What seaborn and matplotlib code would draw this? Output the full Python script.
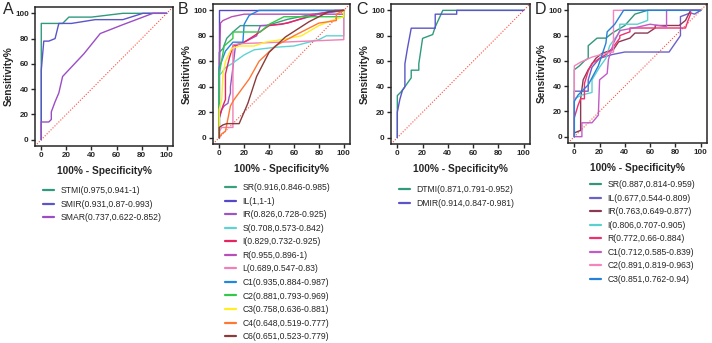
import matplotlib
matplotlib.use("Agg")
import matplotlib.pyplot as plt
import pandas as pd
import seaborn as sns
from matplotlib.lines import Line2D

# ---- data: ROC points (100% - specificity, sensitivity) ----
A_LABELS = ["STMI(0.975,0.941-1)", "SMIR(0.931,0.87-0.993)", "SMAR(0.737,0.622-0.852)"]
A_CURVES = [
    [(0, 0), (0, 92), (17, 92), (22, 97), (40, 97), (65, 100), (100, 100)],
    [(0, 0), (0, 55), (2, 78), (6, 78), (11, 80), (14, 92), (24, 92), (43, 95), (65, 95), (81, 100), (100, 100)],
    [(0, 0), (0, 14), (6, 14), (8, 16), (8, 22), (11, 30), (14, 37), (17, 50), (34, 68), (47, 84), (65, 91), (89, 100), (100, 100)],
]

B_LABELS = ["SR(0.916,0.846-0.985)", "IL(1,1-1)", "IR(0.826,0.728-0.925)", "S(0.708,0.573-0.842)",
            "I(0.829,0.732-0.925)", "R(0.955,0.896-1)", "L(0.689,0.547-0.83)", "C1(0.935,0.884-0.987)",
            "C2(0.881,0.793-0.969)", "C3(0.758,0.636-0.881)", "C4(0.648,0.519-0.777)", "C6(0.651,0.523-0.779)"]
B_CURVES = [
    [(0, 0), (0, 67), (3, 70), (6, 78), (11, 83), (17, 88), (38, 88), (55, 93), (75, 97), (100, 100)],
    [(0, 0), (0, 100), (100, 100)],
    [(0, 0), (0, 15), (2, 22), (4, 25), (7, 27), (8, 32), (9, 35), (9, 40), (11, 55), (13, 72), (20, 75), (30, 80), (33, 88), (50, 89), (80, 97), (100, 100)],
    [(0, 0), (0, 49), (2, 51), (5, 55), (10, 58), (20, 65), (28, 69), (45, 71), (60, 72), (80, 77), (86, 80), (100, 80), (100, 100)],
    [(0, 0), (0, 16), (3, 25), (5, 30), (5, 50), (8, 62), (11, 72), (20, 75), (28, 80), (40, 88), (55, 90), (74, 96), (93, 100), (100, 100)],
    [(0, 0), (0, 50), (1, 90), (3, 92), (10, 95), (20, 97), (100, 97), (100, 100)],
    [(0, 0), (0, 5), (2, 8), (11, 8), (11, 73), (20, 74), (50, 75), (100, 77), (100, 100)],
    [(0, 0), (0, 55), (5, 68), (11, 75), (19, 75), (20, 89), (24, 96), (32, 100), (100, 100)],
    [(0, 0), (0, 50), (4, 72), (11, 78), (11, 83), (29, 83), (33, 83), (40, 89), (52, 95), (100, 95), (100, 100)],
    [(0, 0), (0, 22), (2, 30), (3, 50), (5, 60), (10, 70), (16, 72), (28, 72), (37, 75), (50, 77), (66, 80), (80, 88), (90, 92), (100, 95), (100, 100)],
    [(0, 0), (2, 3), (5, 5), (7, 15), (9, 25), (12, 30), (24, 46), (32, 60), (45, 72), (60, 80), (80, 90), (94, 92), (94, 97), (100, 100)],
    [(0, 0), (0, 8), (3, 10), (6, 11), (16, 11), (23, 27), (30, 48), (40, 67), (53, 79), (72, 91), (88, 99), (100, 100)],
]

C_LABELS = ["DTMI(0.871,0.791-0.952)", "DMIR(0.914,0.847-0.981)"]
C_CURVES = [
    [(0, 0), (0, 33), (3, 36), (6, 40), (11, 47), (11, 53), (17, 53), (17, 58), (20, 78), (28, 81), (30, 87), (36, 100), (100, 100)],
    [(0, 0), (0, 20), (2, 30), (4, 37), (6, 40), (6, 58), (8, 70), (11, 86), (30, 86), (30, 97), (47, 97), (47, 100), (100, 100)],
]

D_LABELS = ["SR(0.887,0.814-0.959)", "IL(0.677,0.544-0.809)", "IR(0.763,0.649-0.877)", "I(0.806,0.707-0.905)",
            "R(0.772,0.66-0.884)", "C1(0.712,0.585-0.839)", "C2(0.891,0.819-0.963)", "C3(0.851,0.762-0.94)"]
D_CURVES = [
    [(0, 0), (0, 53), (4, 56), (8, 60), (11, 62), (11, 72), (18, 78), (25, 78), (30, 82), (40, 88), (48, 97), (58, 100), (100, 100)],
    [(0, 0), (0, 36), (11, 36), (11, 45), (14, 55), (20, 62), (30, 65), (40, 67), (75, 67), (84, 80), (84, 95), (92, 98), (95, 97), (100, 100)],
    [(0, 0), (0, 3), (5, 5), (5, 30), (7, 45), (11, 53), (17, 62), (22, 66), (31, 69), (35, 75), (44, 78), (48, 82), (58, 82), (64, 86), (64, 88), (83, 88), (88, 92), (92, 100), (100, 100)],
    [(0, 0), (0, 30), (6, 33), (14, 35), (14, 45), (20, 55), (25, 62), (28, 72), (36, 83), (36, 89), (50, 89), (58, 92), (58, 100), (100, 100)],
    [(0, 0), (0, 15), (3, 25), (5, 30), (8, 30), (8, 42), (11, 52), (14, 58), (20, 62), (25, 65), (30, 70), (36, 78), (36, 80), (44, 83), (44, 86), (60, 86), (88, 86), (90, 92), (92, 97), (92, 100), (100, 100)],
    [(0, 0), (6, 0), (6, 11), (14, 11), (19, 17), (20, 45), (26, 50), (27, 61), (31, 74), (36, 84), (47, 86), (60, 89), (73, 87), (73, 100), (100, 100)],
    [(0, 0), (0, 56), (5, 59), (14, 63), (25, 66), (31, 67), (31, 100), (100, 100)],
    [(0, 0), (0, 28), (3, 33), (11, 41), (19, 56), (25, 74), (26, 83), (32, 89), (39, 100), (100, 100)],
]

A_COLORS = ["#2f9a7e", "#5b55c9", "#9a4dc6"]
B_COLORS = ["#3a9e80", "#5448c8", "#9b55c4", "#5fd3d3", "#e8235f", "#b84fb8",
            "#f27fb5", "#2288dd", "#33c84a", "#ffee22", "#ff7733", "#8b3b3b"]
C_COLORS = ["#2f9a7e", "#5b55c9"]
D_COLORS = ["#35957a", "#6a62c8", "#8b3a55", "#5ad0d0", "#f0306e", "#c05cc8", "#f483be", "#2480d8"]

W, H = 712, 343


def to_frame(labels, curves):
    rows = []
    for lab, pts in zip(labels, curves):
        for i, (x, y) in enumerate(pts):
            rows.append({"fpr": x, "tpr": y, "curve": lab, "order": i})
    return pd.DataFrame(rows)


def draw_panel(fig, rect, letter, letter_x, labels, curves, colors, leg_xy):
    ax = fig.add_axes(rect)
    df = to_frame(labels, curves)
    ax.plot([-5, 105], [-5, 105], color="#ff4d3d", linestyle=(0, (1, 1.5)), linewidth=0.8)
    sns.lineplot(data=df, x="fpr", y="tpr", hue="curve", palette=dict(zip(labels, colors)),
                 sort=False, estimator=None, legend=False, linewidth=1.0, ax=ax)
    ax.set_xlim(-5, 105)
    ax.set_ylim(-5, 105)
    ax.set_xticks(range(0, 101, 20))
    ax.set_yticks(range(0, 101, 20))
    ax.tick_params(direction="out", length=3, width=1, labelsize=5.8, pad=1.5)
    for lbl in ax.get_xticklabels() + ax.get_yticklabels():
        lbl.set_fontweight("bold")
    for sp in ax.spines.values():
        sp.set_visible(True)
        sp.set_linewidth(1.1)
    ax.set_xlabel("100% - Specificity%", fontsize=7.3, fontweight="bold", labelpad=5)
    ax.set_ylabel("Sensitivity%", fontsize=7.3, fontweight="bold", labelpad=1)
    fig.text(letter_x / W, 1 - 2 / H, letter, fontsize=11.5, va="top", ha="left")
    handles = [Line2D([], [], color=c, linewidth=1.6) for c in colors]
    fig.legend(handles, labels, loc="upper left", bbox_to_anchor=(leg_xy[0] / W, 1 - leg_xy[1] / H),
               frameon=False, fontsize=6.2, handlelength=1.3, handletextpad=0.7,
               labelspacing=0.53, borderpad=0, borderaxespad=0)
    return ax


sns.set_style("ticks")
plt.rcParams["font.family"] = ["Liberation Sans", "DejaVu Sans"]

fig = plt.figure(figsize=(W / 100, H / 100), dpi=100)
draw_panel(fig, [35 / W, 1 - 146 / H, 138 / W, 139 / H], "A", 3, A_LABELS, A_CURVES, A_COLORS, (43, 186))
draw_panel(fig, [213 / W, 1 - 144 / H, 137 / W, 140 / H], "B", 178, B_LABELS, B_CURVES, B_COLORS, (225, 183))
draw_panel(fig, [391 / W, 1 - 144 / H, 139 / W, 140 / H], "C", 356, C_LABELS, C_CURVES, C_COLORS, (399, 185))
draw_panel(fig, [568 / W, 1 - 143 / H, 139 / W, 139 / H], "D", 535, D_LABELS, D_CURVES, D_COLORS, (590, 180))

fig.savefig("out.png", dpi=100)
